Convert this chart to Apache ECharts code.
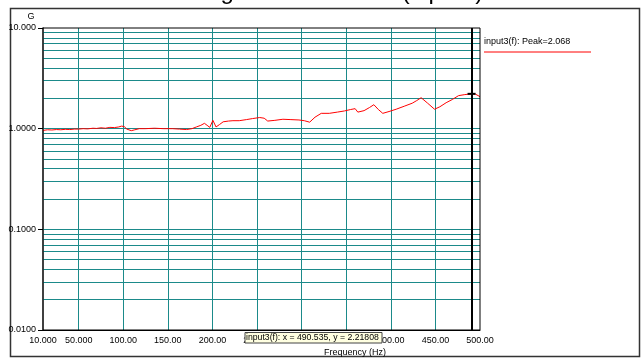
<!DOCTYPE html>
<html>
<head>
<meta charset="utf-8">
<script src="https://cdn.jsdelivr.net/npm/echarts@6/dist/echarts.min.js"></script>
<style>
  html, body { margin: 0; padding: 0; background: #fff; }
  #main { width: 641px; height: 359px; }
</style>
</head>
<body>
<div id="main"></div>
<script>
// 频率 (Hz) 和 加速度幅值 (G)
var freq = [10, 15, 20, 25, 30, 35, 40, 45, 50, 55, 60, 66, 70, 75, 80, 85, 90, 95, 98, 101,
    104, 109, 113, 118, 125, 135, 145, 155, 163, 171, 177, 182, 187, 191, 194, 197, 200.5, 204,
    208, 212, 218, 223, 230, 238, 245, 253, 258, 262, 270, 279, 288, 297, 303, 309, 315, 322,
    331, 340, 348, 355, 360, 363, 370, 376, 381, 386, 391, 398, 406, 415, 424, 429, 434, 441,
    449, 455, 462, 469, 476, 483, 490.5, 495, 500];
var amp = [0.96, 0.975, 0.97, 0.98, 0.975, 0.985, 0.98, 0.99, 0.99, 1.0, 0.995, 1.01, 1.005,
    1.02, 1.01, 1.03, 1.025, 1.04, 1.06, 1.05, 0.99, 0.955, 0.975, 1.0, 1.0, 1.01, 1.0, 1.0,
    0.99, 0.98, 1.0, 1.04, 1.08, 1.13, 1.08, 1.03, 1.21, 1.04, 1.1, 1.17, 1.19, 1.2, 1.2, 1.23,
    1.26, 1.29, 1.27, 1.19, 1.21, 1.24, 1.23, 1.22, 1.2, 1.16, 1.3, 1.42, 1.42, 1.46, 1.5, 1.55,
    1.58, 1.46, 1.51, 1.62, 1.73, 1.55, 1.42, 1.48, 1.56, 1.67, 1.79, 1.9, 2.03, 1.8, 1.56, 1.65,
    1.81, 1.95, 2.13, 2.18, 2.22, 2.2, 2.08];

var xTicks = [10, 50, 100, 150, 200, 250, 300, 350, 400, 450, 500];
var xGrid = [50, 100, 150, 200, 250, 300, 350, 400, 450];
var decades = [0.01, 0.1, 1];
var minorMult = [1, 2, 3, 4, 5, 6, 7, 8, 9];

var cursorX = 490.535;
var cursorY = 2.21808;
var peak = 2.068;

var font = 'Liberation Sans, Arial, sans-serif';
var teal = '#1b8a8a';

// 网格线
var gridLines = [];
xGrid.forEach(function (v) { gridLines.push({ xAxis: v }); });
decades.forEach(function (d) {
    minorMult.forEach(function (m) {
        if (d * m > 0.01) gridLines.push({ yAxis: d * m });
    });
});

var chart = echarts.init(document.getElementById('main'));
chart.setOption({
    animation: false,
    title: {
        text: 'Testing Accelerometer (input3)',
        left: 'center',
        top: -25,
        textStyle: { fontFamily: font, fontSize: 24, fontWeight: 'normal', color: '#000' }
    },
    grid: { left: 43, top: 28, right: 161, bottom: 29 },
    xAxis: {
        type: 'value',
        min: 10,
        max: 500,
        axisLine: { show: true, lineStyle: { color: '#000', width: 1 } },
        axisTick: { show: false },
        splitLine: { show: false },
        axisLabel: {
            customValues: xTicks,
            margin: 6,
            fontFamily: font,
            fontSize: 9,
            color: '#000',
            formatter: function (v) { return v < 100 ? v.toFixed(3) : v.toFixed(2); }
        }
    },
    yAxis: {
        type: 'log',
        logBase: 10,
        min: 0.01,
        max: 10,
        name: 'G',
        nameLocation: 'end',
        nameGap: 7,
        nameTextStyle: { fontFamily: font, fontSize: 9, color: '#000', padding: [0, 24, 0, 0] },
        axisLine: { show: true, lineStyle: { color: '#808080', width: 2 } },
        axisTick: { show: true, length: 5, lineStyle: { color: '#000' } },
        splitLine: { show: false },
        axisLabel: {
            margin: 7,
            fontFamily: font,
            fontSize: 9,
            color: '#000',
            formatter: function (v) { return v >= 10 ? v.toFixed(3) : v.toFixed(4); }
        }
    },
    graphic: [
        { type: 'rect', shape: { x: 10.5, y: 8.5, width: 629, height: 348 },
          style: { fill: 'none', stroke: '#333', lineWidth: 1.5 }, z: 0 },
        { type: 'rect', shape: { x: 43, y: 28, width: 437, height: 302 },
          style: { fill: 'none', stroke: '#000', lineWidth: 1 }, z: 5 },
        { type: 'text', x: 484, y: 42,
          style: { text: 'input3(f): Peak=' + peak.toFixed(3), font: '9px ' + font, fill: '#000',
                   textVerticalAlign: 'middle' }, z: 10 },
        { type: 'line', shape: { x1: 484, y1: 52, x2: 591, y2: 52 },
          style: { stroke: '#ff0000', lineWidth: 1 }, z: 10 },
        { type: 'text', x: 355, y: 353,
          style: { text: 'Frequency (Hz)', font: '9px ' + font, fill: '#000',
                   textAlign: 'center', textVerticalAlign: 'middle' }, z: 10 },
        { type: 'rect', shape: { x: 245, y: 332.5, width: 137, height: 10.5 },
          style: { fill: '#ffffe1', stroke: '#444', lineWidth: 1 }, z: 100 },
        { type: 'text', x: 246, y: 338,
          style: { text: 'input3(f): x = ' + cursorX + ', y = ' + cursorY, font: '8.7px ' + font,
                   fill: '#000', textVerticalAlign: 'middle' }, z: 101 }
    ],
    series: [
        {
            name: 'grid',
            type: 'line',
            data: [],
            silent: true,
            z: 1,
            markLine: {
                silent: true,
                z: 1,
                symbol: 'none',
                label: { show: false },
                lineStyle: { color: teal, width: 1, type: 'solid' },
                data: gridLines
            }
        },
        {
            name: 'input3(f)',
            type: 'line',
            data: freq.map(function (f, i) { return [f, amp[i]]; }),
            showSymbol: false,
            lineStyle: { color: '#ff0000', width: 1 },
            z: 3,
            markLine: {
                silent: true,
                z: 4,
                symbol: 'none',
                label: { show: false },
                lineStyle: { color: '#000', width: 2, type: 'solid' },
                data: [{ xAxis: cursorX }]
            },
            markPoint: {
                z: 6,
                symbol: 'rect',
                symbolSize: [8, 2],
                itemStyle: { color: '#000' },
                label: { show: false },
                data: [{ coord: [cursorX, cursorY] }]
            }
        }
    ]
});
</script>
</body>
</html>
